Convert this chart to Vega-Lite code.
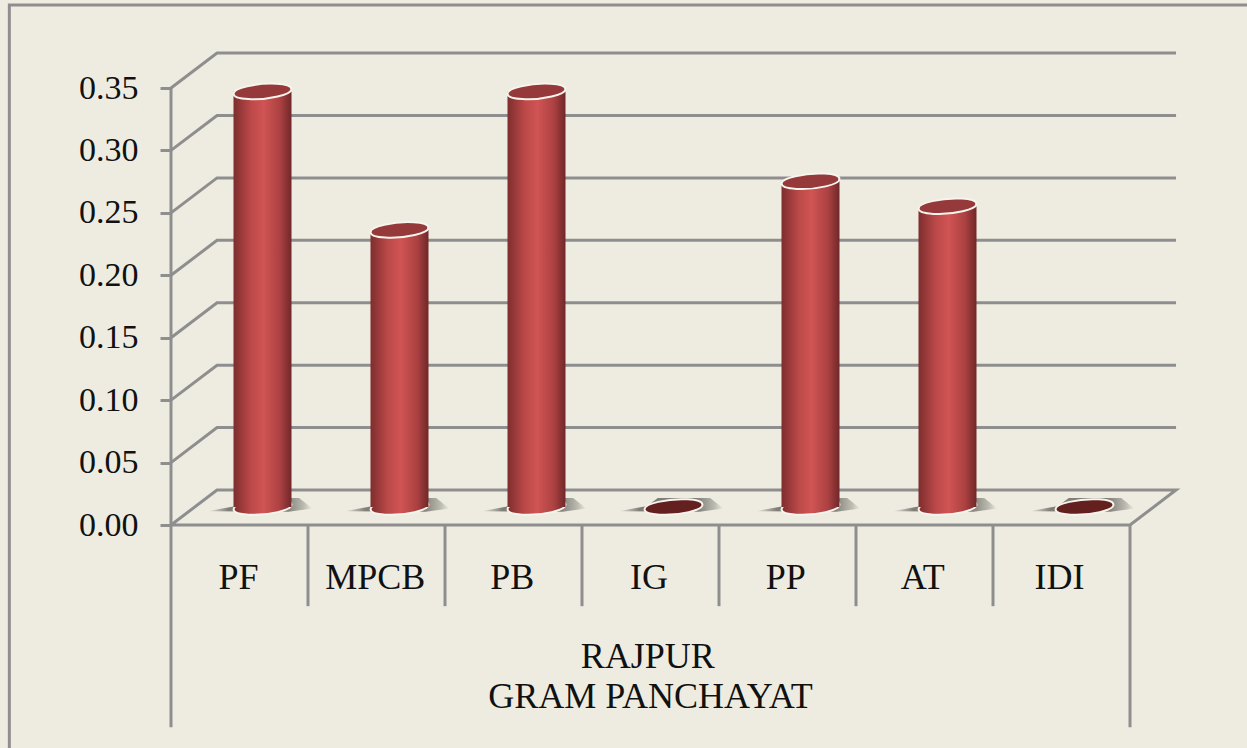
{
"$schema":"https://vega.github.io/schema/vega-lite/v6.json",
"width":1247,"height":748,"padding":0,"autosize":{"type":"none"},
"background":"#EEECE1",
"view":{"stroke":null},
"config":{"view":{"stroke":null}},
"datasets":{
"bars":[{"cat":"PF","value":0.333},{"cat":"MPCB","value":0.222},{"cat":"PB","value":0.333},{"cat":"IG","value":0},{"cat":"PP","value":0.261},{"cat":"AT","value":0.241},{"cat":"IDI","value":0}],
"frame":[
{"id":"border","p":0,"u":-1.18,"v":-0.2},{"id":"border","p":1,"u":-1.18,"v":0.4165},{"id":"border","p":2,"u":8,"v":0.4165},
{"id":"g0","p":0,"u":0,"v":0},{"id":"g0","p":1,"u":0.336,"v":0.028},{"id":"g0","p":2,"u":7.336,"v":0.028},{"id":"g0","p":3,"u":7,"v":0},{"id":"g0","p":4,"u":0,"v":0},
{"id":"g1","p":0,"u":0,"v":0.05},{"id":"g1","p":1,"u":0.336,"v":0.078},{"id":"g1","p":2,"u":7.336,"v":0.078},
{"id":"g2","p":0,"u":0,"v":0.10},{"id":"g2","p":1,"u":0.336,"v":0.128},{"id":"g2","p":2,"u":7.336,"v":0.128},
{"id":"g3","p":0,"u":0,"v":0.15},{"id":"g3","p":1,"u":0.336,"v":0.178},{"id":"g3","p":2,"u":7.336,"v":0.178},
{"id":"g4","p":0,"u":0,"v":0.20},{"id":"g4","p":1,"u":0.336,"v":0.228},{"id":"g4","p":2,"u":7.336,"v":0.228},
{"id":"g5","p":0,"u":0,"v":0.25},{"id":"g5","p":1,"u":0.336,"v":0.278},{"id":"g5","p":2,"u":7.336,"v":0.278},
{"id":"g6","p":0,"u":0,"v":0.30},{"id":"g6","p":1,"u":0.336,"v":0.328},{"id":"g6","p":2,"u":7.336,"v":0.328},
{"id":"g7","p":0,"u":0,"v":0.35},{"id":"g7","p":1,"u":0.336,"v":0.378},{"id":"g7","p":2,"u":7.336,"v":0.378},
{"id":"axis","p":0,"u":0,"v":0.35},{"id":"axis","p":1,"u":0,"v":-0.162},
{"id":"right","p":0,"u":7,"v":0},{"id":"right","p":1,"u":7,"v":-0.162},
{"id":"s1","p":0,"u":1,"v":0},{"id":"s1","p":1,"u":1,"v":-0.065},
{"id":"s2","p":0,"u":2,"v":0},{"id":"s2","p":1,"u":2,"v":-0.065},
{"id":"s3","p":0,"u":3,"v":0},{"id":"s3","p":1,"u":3,"v":-0.065},
{"id":"s4","p":0,"u":4,"v":0},{"id":"s4","p":1,"u":4,"v":-0.065},
{"id":"s5","p":0,"u":5,"v":0},{"id":"s5","p":1,"u":5,"v":-0.065},
{"id":"s6","p":0,"u":6,"v":0},{"id":"s6","p":1,"u":6,"v":-0.065}
],
"group":[{"text":"RAJPUR","u":3.48,"v":-0.1057},{"text":"GRAM PANCHAYAT","u":3.5,"v":-0.1377}]
},
"layer":[
{"data":{"name":"frame"},
 "mark":{"type":"line","color":"#8E8E8E","strokeWidth":3,"strokeCap":"butt","strokeJoin":"miter"},
 "encoding":{
  "x":{"field":"u","type":"quantitative","scale":{"domain":[0,7],"range":[171,1130],"nice":false,"zero":false},"axis":null},
  "y":{"field":"v","type":"quantitative","scale":{"domain":[0,0.35],"range":[525,88],"nice":false,"zero":false},
   "axis":{"values":[0,0.05,0.1,0.15,0.2,0.25,0.3,0.35],"format":".2f","title":null,"orient":"left","offset":-171,"domain":false,"grid":false,"tickSize":11,"tickWidth":3,"tickColor":"#8E8E8E","labelPadding":22,"labelFont":"Liberation Serif","labelFontSize":34,"labelColor":"#111111"}},
  "detail":{"field":"id"},
  "order":{"field":"p","type":"quantitative"}
 }},
{"data":{"name":"bars"},
 "mark":{"type":"point","filled":true,"opacity":1,"size":11000,"shape":"M-1.05,0.08 L-0.5,-0.02 L-0.3,-0.17 L0.7,-0.17 L0.95,0.03 L0.5,0.09 Z","fill":{"gradient":"linear","x1":0,"x2":1,"y1":0,"y2":0,"stops":[{"offset":0,"color":"#EEECE1"},{"offset":0.2,"color":"#7F7F78"},{"offset":0.75,"color":"#7F7F78"},{"offset":0.92,"color":"#BDBCB2"},{"offset":1,"color":"#EEECE1"}]}},
 "encoding":{
  "x":{"field":"cat","type":"nominal","sort":null,"scale":{"domain":["PF","MPCB","PB","IG","PP","AT","IDI"],"range":[194,1153],"paddingInner":0,"paddingOuter":0},"axis":null},
  "y":{"datum":0,"type":"quantitative","scale":{"domain":[0,0.35],"range":[507,70.2],"nice":false,"zero":false},"axis":null}
 }},
{"data":{"name":"bars"},"transform":[{"filter":"datum.value > 0"}],
 "mark":{"type":"point","filled":true,"opacity":1,"size":3364,"stroke":"#F6F4EC","strokeWidth":2,"shape":"M-0.996,0.087 A1,0.25 -5 1,1 0.996,-0.087 A1,0.25 -5 1,1 -0.996,0.087 Z","fill":{"gradient":"linear","x1":0,"x2":1,"y1":0,"y2":0,"stops":[{"offset":0,"color":"#7E2D2E"},{"offset":0.3,"color":"#BC4949"},{"offset":0.52,"color":"#D05453"},{"offset":0.8,"color":"#AC4142"},{"offset":1,"color":"#702728"}]}},
 "encoding":{
  "x":{"field":"cat","type":"nominal","sort":null,"scale":{"domain":["PF","MPCB","PB","IG","PP","AT","IDI"],"range":[194,1153],"paddingInner":0,"paddingOuter":0},"axis":null},
  "y":{"datum":0,"type":"quantitative","scale":{"domain":[0,0.35],"range":[507,70.2],"nice":false,"zero":false},"axis":null}
 }},
{"data":{"name":"bars"},"transform":[{"filter":"datum.value > 0"}],
 "mark":{"type":"bar","width":58,"fill":{"gradient":"linear","x1":0,"x2":1,"y1":0,"y2":0,"stops":[{"offset":0,"color":"#7E2D2E"},{"offset":0.3,"color":"#BC4949"},{"offset":0.52,"color":"#D05453"},{"offset":0.8,"color":"#AC4142"},{"offset":1,"color":"#702728"}]}},
 "encoding":{
  "x":{"field":"cat","type":"nominal","sort":null,"scale":{"domain":["PF","MPCB","PB","IG","PP","AT","IDI"],"range":[194,1153],"paddingInner":0,"paddingOuter":0},"axis":null},
  "y":{"field":"value","type":"quantitative","stack":null,"scale":{"domain":[0,0.35],"range":[507,70.2],"nice":false,"zero":false},"axis":null},
  "y2":{"datum":0}
 }},
{"data":{"name":"bars"},
 "mark":{"type":"point","filled":true,"opacity":1,"size":3364,"stroke":"#F6F4EC","strokeWidth":2,"shape":"M-0.996,0.087 A1,0.25 -5 1,1 0.996,-0.087 A1,0.25 -5 1,1 -0.996,0.087 Z"},
 "encoding":{
  "x":{"field":"cat","type":"nominal","sort":null,"scale":{"domain":["PF","MPCB","PB","IG","PP","AT","IDI"],"range":[194,1153],"paddingInner":0,"paddingOuter":0},"axis":null},
  "y":{"field":"value","type":"quantitative","scale":{"domain":[0,0.35],"range":[507,70.2],"nice":false,"zero":false},"axis":null},
  "fill":{"condition":{"test":"datum.value > 0","value":"#96393A"},"value":"#64201F"}
 }},
{"data":{"name":"bars"},
 "mark":{"type":"text","font":"Liberation Serif","fontSize":36,"color":"#111111","align":"center","baseline":"middle"},
 "encoding":{
  "x":{"field":"cat","type":"nominal","sort":null,"scale":{"domain":["PF","MPCB","PB","IG","PP","AT","IDI"],"range":[170,1128],"paddingInner":0,"paddingOuter":0},"axis":null},
  "y":{"datum":-0.0424,"type":"quantitative","scale":{"domain":[0,0.35],"range":[525,88],"nice":false,"zero":false},"axis":null},
  "text":{"field":"cat"}
 }},
{"data":{"name":"group"},
 "mark":{"type":"text","font":"Liberation Serif","fontSize":36,"color":"#111111","align":"center","baseline":"middle"},
 "encoding":{
  "x":{"field":"u","type":"quantitative","scale":{"domain":[0,7],"range":[171,1130],"nice":false,"zero":false},"axis":null},
  "y":{"field":"v","type":"quantitative","scale":{"domain":[0,0.35],"range":[525,88],"nice":false,"zero":false},"axis":null},
  "text":{"field":"text"}
 }}
],
"resolve":{"scale":{"x":"independent","y":"independent"},"axis":{"x":"independent","y":"independent"}}
}
